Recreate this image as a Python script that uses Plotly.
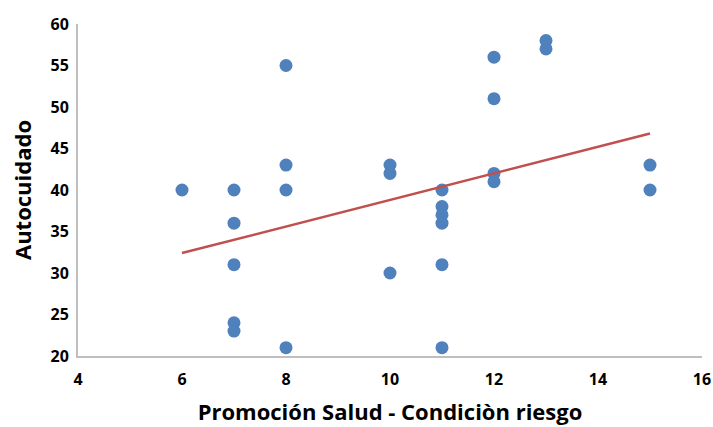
import plotly.graph_objects as go

x_vals = [6, 7, 7, 7, 7, 7, 8, 8, 8, 8, 10, 10, 10, 11, 11, 11, 11, 11, 11, 12, 12, 12, 12, 13, 13, 15, 15]
y_vals = [40, 40, 36, 31, 24, 23, 55, 43, 40, 21, 43, 42, 30, 40, 38, 37, 36, 31, 21, 56, 51, 42, 41, 58, 57, 43, 40]

# Linear trendline as drawn in the reference
trend_x = [6, 15]
trend_y = [32.4, 46.8]

x_title = "Promoción Salud - Condiciòn riesgo"
y_title = "Autocuidado"

fig = go.Figure()
fig.add_trace(go.Scatter(x=x_vals, y=y_vals, mode="markers",
                         marker=dict(color="#4f81bd", size=13), showlegend=False))
fig.add_trace(go.Scatter(x=trend_x, y=trend_y, mode="lines",
                         line=dict(color="#c0504d", width=2.5), showlegend=False))

font_family = "Open Sans, sans-serif"
fig.update_layout(
    width=713, height=427,
    margin=dict(l=78, r=11, t=24, b=71),
    plot_bgcolor="white", paper_bgcolor="white",
    font=dict(family=font_family, color="black"),
)
fig.update_xaxes(range=[4, 16], dtick=2, showgrid=False, zeroline=False,
                 showline=True, linecolor="#bfbfbf", linewidth=2, automargin=False,
                 ticks="", ticklabelstandoff=8,
                 tickfont=dict(size=16, family=font_family, weight="bold"),
                 title=dict(text=x_title, font=dict(size=22, weight="bold"), standoff=15))
fig.update_yaxes(range=[20, 60], dtick=5, showgrid=False, zeroline=False,
                 showline=True, linecolor="#bfbfbf", linewidth=2, automargin=False,
                 ticks="", ticklabelstandoff=4,
                 tickfont=dict(size=16, family=font_family, weight="bold"),
                 title=dict(text=y_title, font=dict(size=22, weight="bold"), standoff=13))

fig.write_html("out.html")
